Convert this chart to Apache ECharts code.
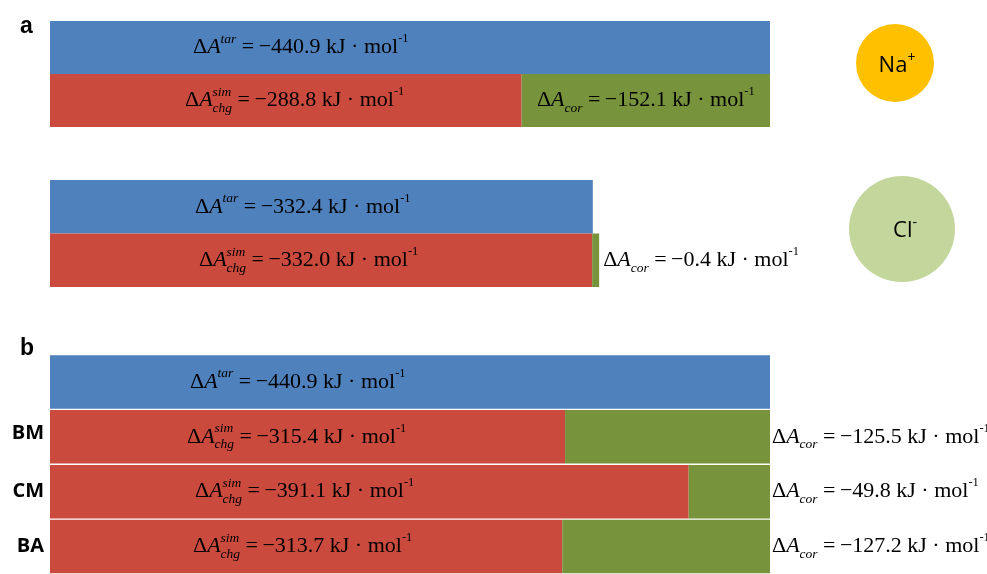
<!DOCTYPE html>
<html>
<head>
<meta charset="utf-8">
<script src="https://cdn.jsdelivr.net/npm/echarts@6/dist/echarts.min.js"></script>
<style>html,body{margin:0;padding:0;background:#fff}#c{width:987px;height:574px}</style>
</head>
<body>
<div id="c"></div>
<script>
// ---- data (magnitudes in kJ/mol; labels show them as negative free energies) ----
const ions = ['Na+', 'Cl-'];
const ionTarget = [440.9, 332.4];
const ionCharge = [288.8, 332.0];
const ionCorrection = [152.1, 0.4];
const modelNames = ['BM', 'CM', 'BA'];
const modelTarget = [440.9];
const modelCharge = [315.4, 391.1, 313.7];
const modelCorrection = [125.5, 49.8, 127.2];
const axisMax = 440.9;

// ---- layout / style constants ----
const SERIF = '"Liberation Serif", "Times New Roman", serif';
const SANS = '"Open Sans", "Liberation Sans", sans-serif';
const BLUE = '#4F81BD', RED = '#CB4A3E', GREEN = '#77933C';
const ionTarLabelX = [143, 145];
const ionChgLabelX = [135, 149];
const modelTarLabelX = 140;
const modelChgLabelX = [137, 145, 143];

const rich = {
  d: {fontFamily: SERIF, fontSize: 22, lineHeight: 30, color: '#000'},
  A: {fontFamily: SERIF, fontSize: 22, fontStyle: 'italic', lineHeight: 30, color: '#000'},
  sup: {fontFamily: SERIF, fontSize: 13.5, fontStyle: 'italic', lineHeight: 19, verticalAlign: 'top', color: '#000'},
  supz: {fontFamily: SERIF, fontSize: 13.5, fontStyle: 'italic', lineHeight: 19, verticalAlign: 'top', width: 0, align: 'left', color: '#000'},
  sub: {fontFamily: SERIF, fontSize: 13.5, fontStyle: 'italic', lineHeight: 11, verticalAlign: 'bottom', color: '#000'},
  e: {fontFamily: SERIF, fontSize: 12.5, lineHeight: 19, verticalAlign: 'top', color: '#000'}
};
const tail = v => `{d| =\u2009\u2212${v.toFixed(1)} kJ \u00b7 mol}{e|-1}`;
const tarText = v => `{d|\u0394}{A|A}{sup|tar}` + tail(v);
const chgText = v => `{d|\u0394}{A|A}{supz|sim}{sub|chg}` + tail(v);
const corText = v => `{d|\u0394}{A|A}{sub|cor}` + tail(v);

function lbl(extra) {
  return Object.assign({show: true, rich: rich, color: '#000'}, extra);
}
function posLabel(x, fmt) {
  return lbl({position: [x, '50%'], align: 'left', verticalAlign: 'middle', formatter: p => fmt(p.value)});
}

const grids = [
  {left: 50, width: 720, top: 21, height: 106},
  {left: 50, width: 720, top: 180, height: 107},
  {left: 50, width: 720, top: 354.5, height: 226.8}
];
const xAxes = grids.map((g, i) => ({type: 'value', gridIndex: i, min: 0, max: axisMax, show: false}));
const rowRich = {
  n: {fontFamily: SANS, fontWeight: 'bold', fontSize: 20, color: '#000'},
  hi: {fontFamily: SANS, fontWeight: 'bold', fontSize: 20, color: '#000', padding: [0, 0, 8, 0]}
};
const yAxes = [
  {type: 'category', gridIndex: 0, inverse: true, data: ['target', 'simulated'], show: false},
  {type: 'category', gridIndex: 1, inverse: true, data: ['target', 'simulated'], show: false},
  {type: 'category', gridIndex: 2, inverse: true, data: ['target'].concat(modelNames),
   axisLine: {show: false}, axisTick: {show: false}, splitLine: {show: false},
   axisLabel: {show: true, margin: 6, rich: rowRich,
     formatter: (v, i) => i === 0 ? '' : (i === 1 ? `{hi|${v}}` : `{n|${v}}`)}}
];

const series = [];
ions.forEach((ion, i) => {
  const base = {type: 'bar', xAxisIndex: i, yAxisIndex: i, stack: 'e' + i, barWidth: '100%', barCategoryGap: 0};
  series.push(Object.assign({}, base, {
    name: ion + ' target', itemStyle: {color: BLUE},
    data: [{value: ionTarget[i], label: posLabel(ionTarLabelX[i], tarText)}, '-']
  }));
  series.push(Object.assign({}, base, {
    name: ion + ' charging', itemStyle: {color: RED},
    data: ['-', {value: ionCharge[i], label: posLabel(ionChgLabelX[i], chgText)}]
  }));
  series.push(Object.assign({}, base, {
    name: ion + ' correction', itemStyle: {color: GREEN}, barMinHeight: i === 1 ? 7 : 0,
    data: ['-', {value: ionCorrection[i], label: lbl(i === 0
      ? {position: 'inside', formatter: p => corText(p.value)}
      : {position: 'right', distance: 4, formatter: p => corText(p.value)})}]
  }));
});

const mBase = {type: 'bar', xAxisIndex: 2, yAxisIndex: 2, stack: 'm', barWidth: 53.5};
series.push(Object.assign({}, mBase, {
  name: 'target', itemStyle: {color: BLUE},
  data: [{value: modelTarget[0], label: posLabel(modelTarLabelX, tarText)}].concat(modelNames.map(() => '-'))
}));
series.push(Object.assign({}, mBase, {
  name: 'charging', itemStyle: {color: RED},
  data: ['-'].concat(modelCharge.map((v, k) => ({value: v, label: posLabel(modelChgLabelX[k], chgText)})))
}));
series.push(Object.assign({}, mBase, {
  name: 'correction', itemStyle: {color: GREEN},
  label: lbl({position: 'right', distance: 2, formatter: p => corText(p.value)}),
  data: ['-'].concat(modelCorrection)
}));

const ionRich = {
  n: {fontFamily: SANS, fontSize: 22, color: '#000', lineHeight: 30},
  s: {fontFamily: SANS, fontSize: 14, color: '#000', lineHeight: 22, verticalAlign: 'top'}
};

const chart = echarts.init(document.getElementById('c'), null, {renderer: 'canvas'});
chart.setOption({
  animation: false,
  backgroundColor: '#fff',
  grid: grids,
  xAxis: xAxes,
  yAxis: yAxes,
  series: series,
  graphic: [
    {type: 'text', left: 20, top: 15, style: {text: 'a', font: 'bold 23px "Liberation Sans", Arial, sans-serif', fill: '#000'}},
    {type: 'text', left: 20, top: 337, style: {text: 'b', font: 'bold 23px "Liberation Sans", Arial, sans-serif', fill: '#000'}},
    {type: 'circle', shape: {cx: 895, cy: 63, r: 39}, style: {fill: '#FFC000'}, z: 1},
    {type: 'circle', shape: {cx: 902, cy: 229, r: 53}, style: {fill: '#C3D69B'}, z: 1},
    {type: 'text', x: 897, y: 66, z: 2, style: {text: '{n|Na}{s|+}', rich: ionRich, align: 'center', verticalAlign: 'middle'}},
    {type: 'text', x: 905, y: 231, z: 2, style: {text: '{n|Cl}{s|-}', rich: ionRich, align: 'center', verticalAlign: 'middle'}}
  ]
});
</script>
</body>
</html>
